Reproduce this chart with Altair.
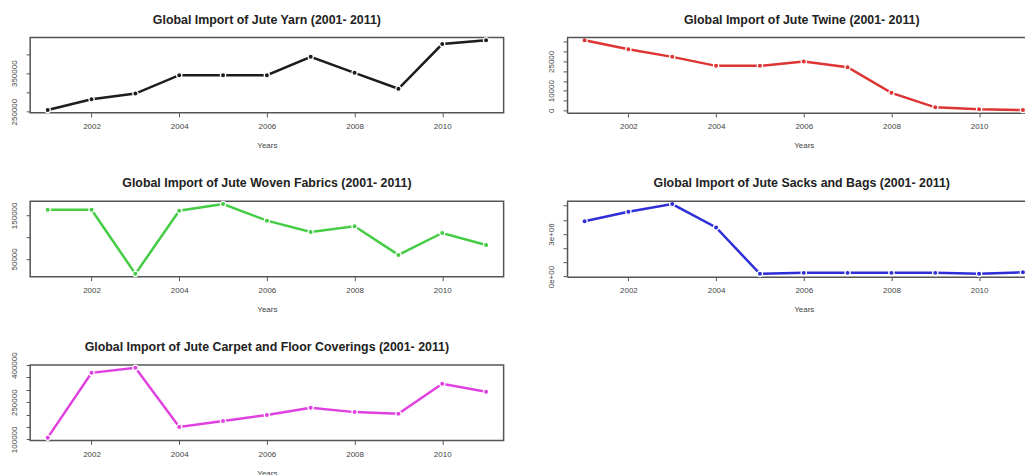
import altair as alt
import pandas as pd

years = list(range(2001, 2012))

yarn = [254000, 282000, 297000, 345000, 345000, 345000, 393000, 351000, 309500, 426000, 436000]
twine = [35800, 31200, 27300, 22700, 22700, 24900, 22000, 8900, 1500, 500, 100]
woven = [163000, 163000, 15600, 160700, 176000, 137800, 111800, 124800, 59200, 109500, 82000]
sacks = [3900000, 4580000, 5120000, 3470000, 190000, 260000, 260000, 260000, 260000, 190000, 300000]
carpet = [106700, 368800, 389000, 149700, 174000, 198000, 227700, 210000, 203500, 324500, 292000]

titles = [
    "Global Import of Jute Yarn (2001- 2011)",
    "Global Import of Jute Twine (2001- 2011)",
    "Global Import of Jute Woven Fabrics (2001- 2011)",
    "Global Import of Jute Sacks and Bags (2001- 2011)",
    "Global Import of Jute Carpet and Floor Coverings (2001- 2011)",
]
colors = ["#1c1c1c", "#de3434", "#45cc45", "#2e2ed8", "#e040e0"]

x_ticks = [2002, 2004, 2006, 2008, 2010]

yarn_ticks = [250000, 300000, 350000, 400000]
yarn_labels = {250000: "250000", 350000: "350000"}
twine_ticks = [0, 5000, 10000, 15000, 20000, 25000, 30000, 35000]
twine_labels = {0: "0", 10000: "10000", 25000: "25000"}
woven_ticks = [50000, 100000, 150000]
woven_labels = {50000: "50000", 150000: "150000"}
sacks_ticks = [0, 1000000, 2000000, 3000000, 4000000, 5000000]
sacks_labels = {0: "0e+00", 3000000: "3e+06"}
carpet_ticks = [100000, 150000, 200000, 250000, 300000, 350000, 400000]
carpet_labels = {100000: "100000", 250000: "250000", 400000: "400000"}

BOX = "#555555"
FONT = "Liberation Sans"
H = 75.5
W = 474


def label_expr(labels):
    expr = "''"
    for v, t in reversed(list(labels.items())):
        expr = f"datum.value == {v} ? '{t}' : ({expr})"
    return expr


def panel(values, title, color, yticks, ylabels, cropped=False, title_dy=0):
    df = pd.DataFrame({"Year": years, "Value": values})
    lo, hi = min(values), max(values)
    pad = 0.04 * (hi - lo)
    x = alt.X(
        "Year:Q",
        scale=alt.Scale(domain=[2000.6, 2011.4], nice=False, zero=False),
        axis=alt.Axis(
            values=x_ticks, format="d", title="Years", tickSize=4, labelPadding=6,
            titlePadding=11, grid=False, domain=cropped, labelFlush=False,
            titleFontWeight="normal",
        ),
    )
    y = alt.Y(
        "Value:Q",
        scale=alt.Scale(domain=[lo - pad, hi + pad], nice=False, zero=False),
        axis=alt.Axis(
            values=yticks, labelExpr=label_expr(ylabels), title=None, labelAngle=270,
            labelAlign="center", labelBaseline="bottom", tickSize=4, labelPadding=8,
            grid=False, domain=cropped, labelFlush=False, labelOverlap=False,
        ),
    )
    base = alt.Chart(df).encode(x=x, y=y)
    line = base.mark_line(color=color, strokeWidth=2.5)
    pts = base.mark_circle(color=color, size=28, opacity=1, stroke="white", strokeWidth=1.3)
    layers = [line, pts]
    if cropped:
        top = alt.Chart(pd.DataFrame({"k": [0]})).mark_rule(color=BOX, strokeWidth=1.5).encode(
            x=alt.value(0), x2=alt.value(W), y=alt.value(0)
        )
        layers.append(top)
    t = alt.TitleParams(
        title, fontSize=12.4, fontWeight="bold", font=FONT, color="#222222",
        offset=9, anchor="middle", dx=-2 if cropped else 0, dy=title_dy,
    )
    ch = alt.layer(*layers).properties(width=W, height=H, title=t)
    if cropped:
        ch = ch.properties(view=alt.ViewBackground(stroke="transparent"))
    return ch


p1 = panel(yarn, titles[0], colors[0], yarn_ticks, yarn_labels)
p2 = panel(twine, titles[1], colors[1], twine_ticks, twine_labels, cropped=True)
p3 = panel(woven, titles[2], colors[2], woven_ticks, woven_labels)
p4 = panel(sacks, titles[3], colors[3], sacks_ticks, sacks_labels, cropped=True)
p5 = panel(carpet, titles[4], colors[4], carpet_ticks, carpet_labels, title_dy=11)

chart = alt.concat(
    p1, p2, p3, p4, p5, columns=2,
    spacing=alt.RowColnumber(row=88, column=63.5),
    bounds="flush",
).properties(
    padding={"left": 1.2, "top": 4.2, "right": -17, "bottom": 0},
    background="white",
).configure_view(
    stroke=BOX, strokeWidth=1.5,
).configure_axis(
    labelFont=FONT, labelFontSize=8, labelColor="#444444",
    titleFont=FONT, titleFontSize=8, titleFontWeight="normal", titleColor="#444444",
    tickColor=BOX, tickWidth=1, domainColor=BOX, domainWidth=1.5,
)

chart.save("out.html", embed_options={"renderer": "svg", "actions": False})
